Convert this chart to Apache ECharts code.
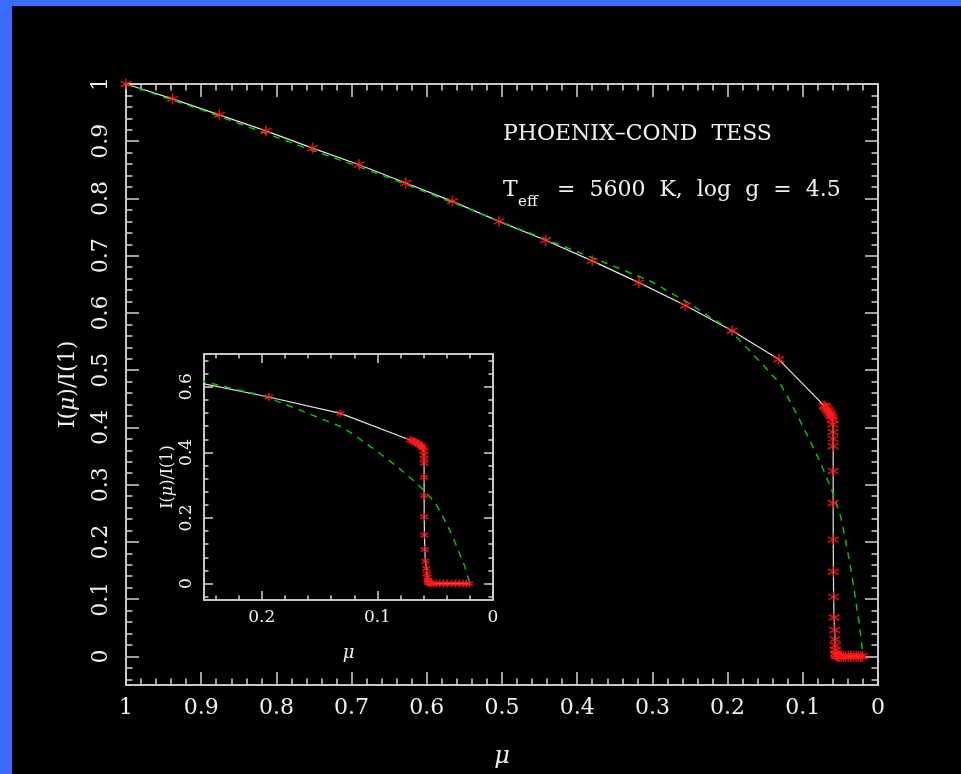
<!DOCTYPE html>
<html>
<head>
<meta charset="utf-8">
<script src="https://cdn.jsdelivr.net/npm/echarts@6/dist/echarts.min.js"></script>
<style>
  body { margin: 0; background: #000; }
  #mainChart { width: 961px; height: 774px; }
</style>
</head>
<body>
<div id="mainChart"></div>
<script>
// model intensities (white line + red stars)
var muModel = [1.000, 0.938, 0.876, 0.814, 0.752, 0.690, 0.628, 0.566, 0.504, 0.442, 0.380, 0.318, 0.256, 0.194, 0.132,
  0.0717, 0.0700, 0.0683, 0.0667, 0.0652, 0.0638, 0.0625, 0.0614, 0.0605, 0.0600,
  0.0598, 0.0597, 0.0596, 0.0596, 0.0596, 0.0595, 0.0593, 0.0590, 0.0585, 0.0577,
  0.0572, 0.0568, 0.0565, 0.0562, 0.0558, 0.0550, 0.0535, 0.0515, 0.0490, 0.0460,
  0.0430, 0.0395, 0.0360, 0.0325, 0.0290, 0.0260, 0.0230, 0.0205];
var iModel = [1.000, 0.974, 0.946, 0.918, 0.888, 0.859, 0.827, 0.795, 0.760, 0.727, 0.691, 0.653, 0.613, 0.569, 0.519,
  0.438, 0.436, 0.433, 0.430, 0.427, 0.424, 0.421, 0.418, 0.414, 0.405,
  0.392, 0.380, 0.367, 0.324, 0.268, 0.204, 0.148, 0.104, 0.068, 0.046,
  0.030, 0.019, 0.011, 0.006, 0.003, 0.001, 0, 0, 0, 0,
  0, 0, 0, 0, 0, 0, 0, 0];

// fitted law (green dashed)
var muFit = [1.00, 0.95, 0.90, 0.85, 0.80, 0.75, 0.70, 0.65, 0.60, 0.55, 0.50, 0.45, 0.40, 0.35, 0.30, 0.25, 0.22, 0.20,
  0.175, 0.15, 0.13, 0.12, 0.11, 0.10, 0.09, 0.08, 0.07, 0.06, 0.05, 0.045, 0.04, 0.035, 0.03, 0.025, 0.0215, 0.0197];
var iFit = [1.000, 0.977, 0.955, 0.931, 0.907, 0.883, 0.860, 0.836, 0.810, 0.785, 0.758, 0.733, 0.707, 0.681, 0.654, 0.616, 0.590, 0.574,
  0.540, 0.505, 0.476, 0.453, 0.428, 0.402, 0.376, 0.348, 0.318, 0.285, 0.246, 0.215, 0.181, 0.145, 0.101, 0.058, 0.018, 0.000];

var xTicksMain = [0, 0.1, 0.2, 0.3, 0.4, 0.5, 0.6, 0.7, 0.8, 0.9, 1];
var yTicksMain = [0, 0.1, 0.2, 0.3, 0.4, 0.5, 0.6, 0.7, 0.8, 0.9, 1];
var xTicksInset = [0, 0.1, 0.2];
var yTicksInset = [0, 0.2, 0.4, 0.6];

function steps(a, b, d) {
  var out = [];
  for (var v = a; v <= b + 1e-9; v += d) out.push(+v.toFixed(4));
  return out;
}
function zip(xs, ys) {
  return xs.map(function (x, i) { return [x, ys[i]]; });
}
function fmt(v) { return String(Math.round(v * 100) / 100); }

var frameColor = '#d4d4d4';
var textColor = '#f0f0f0';
var serif = 'DejaVu Serif';

function frameAxis(o) {
  var ax = {
    type: 'value', gridIndex: o.grid, position: o.pos,
    min: o.min, max: o.max, inverse: !!o.inverse,
    axisLine: { show: true, onZero: false, lineStyle: { color: frameColor, width: 1.5 } },
    axisTick: { show: true, inside: true, length: o.len, customValues: o.ticks,
                lineStyle: { color: frameColor, width: 1.5 } },
    axisLabel: { show: false },
    splitLine: { show: false },
    axisPointer: { show: false }
  };
  if (o.labels) {
    ax.axisLabel = Object.assign({ show: true, customValues: o.ticks, formatter: fmt,
      color: textColor, fontFamily: serif }, o.labels);
  }
  if (o.name) {
    ax.name = o.name;
    ax.nameLocation = 'middle';
    ax.nameGap = o.nameGap;
    ax.nameTextStyle = o.nameStyle;
  }
  return ax;
}

var muName = { color: textColor, fontFamily: serif, fontStyle: 'italic', fontSize: 24 };
var ratioName = function (size) {
  return { color: textColor, fontFamily: serif, fontSize: size,
    rich: { m: { color: textColor, fontFamily: serif, fontStyle: 'italic', fontSize: size } } };
};

var xAxes = [
  frameAxis({ grid: 0, pos: 'bottom', min: 0, max: 1, inverse: true, ticks: xTicksMain, len: 13,
    labels: { fontSize: 22, margin: 12 }, name: 'μ', nameGap: 60, nameStyle: muName }),
  frameAxis({ grid: 0, pos: 'bottom', min: 0, max: 1, inverse: true, ticks: steps(0, 1, 0.02), len: 6.5 }),
  frameAxis({ grid: 0, pos: 'top', min: 0, max: 1, inverse: true, ticks: xTicksMain, len: 13 }),
  frameAxis({ grid: 0, pos: 'top', min: 0, max: 1, inverse: true, ticks: steps(0, 1, 0.02), len: 6.5 }),
  frameAxis({ grid: 1, pos: 'bottom', min: 0, max: 0.25, inverse: true, ticks: xTicksInset, len: 9,
    labels: { fontSize: 17, margin: 9 }, name: 'μ', nameGap: 44, nameStyle: Object.assign({}, muName, { fontSize: 18 }) }),
  frameAxis({ grid: 1, pos: 'bottom', min: 0, max: 0.25, inverse: true, ticks: steps(0, 0.24, 0.02), len: 4.5 }),
  frameAxis({ grid: 1, pos: 'top', min: 0, max: 0.25, inverse: true, ticks: xTicksInset, len: 9 }),
  frameAxis({ grid: 1, pos: 'top', min: 0, max: 0.25, inverse: true, ticks: steps(0, 0.24, 0.02), len: 4.5 })
];
var yAxes = [
  frameAxis({ grid: 0, pos: 'left', min: -0.05, max: 1, ticks: yTicksMain, len: 13,
    labels: { fontSize: 22, margin: 14, rotate: 90 }, name: 'I({m|μ})/I(1)', nameGap: 47, nameStyle: ratioName(22) }),
  frameAxis({ grid: 0, pos: 'left', min: -0.05, max: 1, ticks: steps(-0.04, 1, 0.02), len: 6.5 }),
  frameAxis({ grid: 0, pos: 'right', min: -0.05, max: 1, ticks: yTicksMain, len: 13 }),
  frameAxis({ grid: 0, pos: 'right', min: -0.05, max: 1, ticks: steps(-0.04, 1, 0.02), len: 6.5 }),
  frameAxis({ grid: 1, pos: 'left', min: -0.05, max: 0.7, ticks: yTicksInset, len: 9,
    labels: { fontSize: 17, margin: 9, rotate: 90 }, name: 'I({m|μ})/I(1)', nameGap: 28, nameStyle: ratioName(16) }),
  frameAxis({ grid: 1, pos: 'left', min: -0.05, max: 0.7, ticks: steps(-0.04, 0.68, 0.04), len: 4.5 }),
  frameAxis({ grid: 1, pos: 'right', min: -0.05, max: 0.7, ticks: yTicksInset, len: 9 }),
  frameAxis({ grid: 1, pos: 'right', min: -0.05, max: 0.7, ticks: steps(-0.04, 0.68, 0.04), len: 4.5 })
];

var star = 'path://M5,0L5,10M0.67,2.5L9.33,7.5M0.67,7.5L9.33,2.5';
var model = zip(muModel, iModel);
var fit = zip(muFit, iFit);

function seriesFor(ix, starSize) {
  return [
    { type: 'line', xAxisIndex: ix, yAxisIndex: ix, data: model, showSymbol: false, silent: true,
      lineStyle: { color: '#e4e4e4', width: 1.2 }, z: 2 },
    { type: 'line', xAxisIndex: ix, yAxisIndex: ix, data: fit, showSymbol: false, silent: true,
      lineStyle: { color: '#00c400', width: 1.5, type: [7, 6] }, z: 3 },
    { type: 'scatter', xAxisIndex: ix, yAxisIndex: ix, data: model, symbol: star, symbolSize: starSize, silent: true,
      itemStyle: { color: '#ff1a1a', borderColor: '#ff1a1a', borderWidth: 1.6 }, z: 4 }
  ];
}

var chart = echarts.init(document.getElementById('mainChart'));
var option = {
  backgroundColor: '#000',
  animation: false,
  grid: [
    { left: 126, top: 84, width: 752, height: 601, show: true, backgroundColor: '#000', borderWidth: 0 },
    { left: 204, top: 354, width: 289, height: 246, show: true, backgroundColor: '#000', borderWidth: 0 }
  ],
  xAxis: xAxes,
  yAxis: yAxes,
  series: seriesFor(0, 11).concat(seriesFor(4, 8)),
  graphic: [
    { type: 'rect', shape: { x: 0, y: 0, width: 12, height: 774 }, style: { fill: '#3b6bff' }, silent: true },
    { type: 'rect', shape: { x: 0, y: 0, width: 961, height: 6 }, style: { fill: '#3b6bff' }, silent: true },
    { type: 'text', x: 503, y: 134, silent: true,
      style: { text: 'PHOENIX–COND  TESS', fill: textColor, font: '22px "DejaVu Serif"', verticalAlign: 'middle' } },
    { type: 'text', x: 503, y: 190.5, silent: true,
      style: { text: 'T', fill: textColor, font: '22px "DejaVu Serif"', verticalAlign: 'middle' } },
    { type: 'text', x: 518, y: 202, silent: true,
      style: { text: 'eff', fill: textColor, font: '15px "DejaVu Serif"', verticalAlign: 'middle' } },
    { type: 'text', x: 557, y: 190.5, silent: true,
      style: { text: '=  5600  K,  log  g  =  4.5', fill: textColor, font: '22px "DejaVu Serif"', verticalAlign: 'middle' } }
  ]
};
chart.setOption(option);
</script>
</body>
</html>
